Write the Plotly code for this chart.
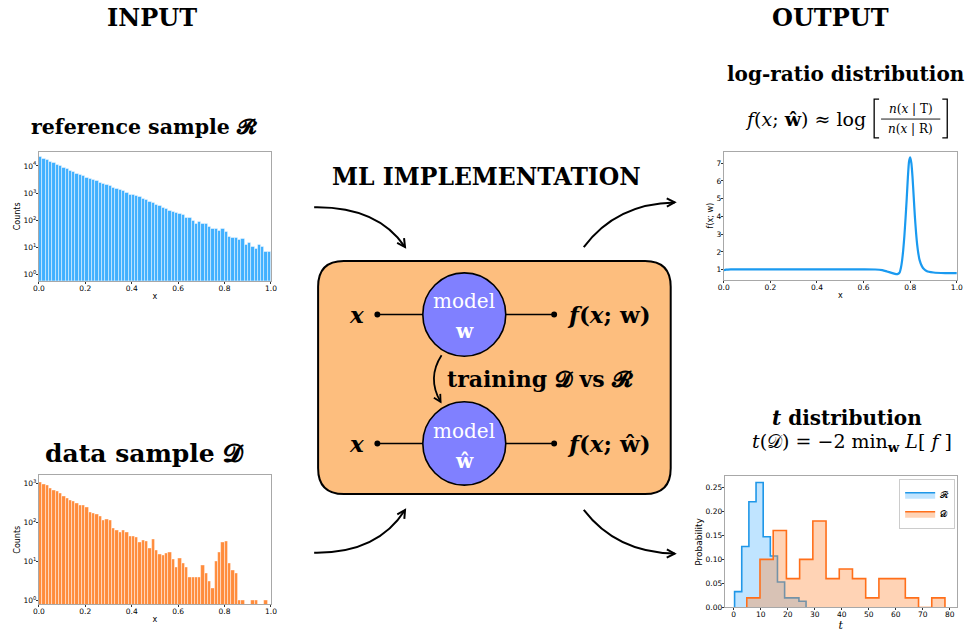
import math
import plotly.graph_objects as go

W, H = 973, 637

# ---------------------------------------------------------------- data
N_BINS = 70  # equal-width bins on [0, 1]

# reference sample R (counts per bin)
REF_COUNTS = [21380, 18620, 16220, 14130, 12590, 11220, 10000, 8910, 7940, 6920,
              6030, 5370, 4790, 4365, 3715, 3467, 3090, 2754, 2455, 2291,
              1950, 1820, 1622, 1413, 1288, 1175, 1023, 891, 851, 776,
              708, 631, 550, 479, 447, 389, 331, 295, 263, 234,
              209, 186, 178, 162, 126, 120, 93, 74, 85, 72,
              78, 59, 51, 47, 41, 47, 38, 25, 23, 23,
              19, 21, 13, 15, 11, 9, 13, 11, 7, 7]

# data sample D (counts per bin)
DATA_COUNTS = [1047, 955, 871, 741, 646, 617, 550, 457, 398, 355,
               347, 302, 263, 263, 234, 182, 166, 158, 138, 112,
               117, 112, 69, 63, 56, 62, 54, 43, 43, 42,
               30, 35, 32, 22, 36, 19, 15, 14, 16, 17,
               11, 7, 12, 9, 7, 4, 4, 4, 4, 8,
               5, 3, 2, 10, 17, 30, 33, 9, 6, 5,
               1, 1, 0, 0, 1, 1, 0, 0, 1, 0]

# learned log-ratio f(x; w)
F_X = [0.0, 0.01, 0.03, 0.1, 0.2, 0.3, 0.4, 0.5, 0.6, 0.65,
       0.68, 0.70, 0.72, 0.735, 0.745, 0.755, 0.76, 0.765, 0.77, 0.775,
       0.78, 0.785, 0.79, 0.795, 0.80, 0.805, 0.81, 0.815, 0.82, 0.825,
       0.83, 0.835, 0.84, 0.85, 0.86, 0.87, 0.88, 0.90, 0.95, 1.0]
F_Y = [0.97, 1.00, 1.02, 1.02, 1.02, 1.02, 1.02, 1.02, 1.02, 1.01,
       0.97, 0.90, 0.82, 0.76, 0.75, 0.85, 1.1, 1.5, 2.1, 2.9,
       3.9, 5.0, 6.2, 7.1, 7.33, 7.0, 6.2, 5.1, 4.0, 3.1,
       2.4, 1.9, 1.55, 1.2, 1.02, 0.93, 0.88, 0.84, 0.81, 0.80]

# t distributions (bin edges and probabilities)
R_EDGES = [0.35, 3.0, 5.64, 8.29, 10.93, 13.58, 16.22, 18.87, 21.51, 24.16, 26.8]
R_PROB = [0.033, 0.127, 0.220, 0.260, 0.147, 0.107, 0.053, 0.020, 0.020, 0.013]
D_EDGES = [4.86, 9.75, 14.64, 19.53, 24.42, 29.31, 34.2, 39.09, 43.98, 48.87,
           53.76, 58.65, 63.54, 68.43, 73.32, 78.21]
D_PROB = [0.02, 0.10, 0.16, 0.06, 0.10, 0.18, 0.06, 0.08, 0.06, 0.02,
          0.06, 0.06, 0.02, 0.0, 0.02]

X_TICKS = [0.0, 0.2, 0.4, 0.6, 0.8, 1.0]
T_TICKS = [0, 10, 20, 30, 40, 50, 60, 70, 80]
P_TICKS = [0.0, 0.05, 0.10, 0.15, 0.20, 0.25]
F_TICKS = [1, 2, 3, 4, 5, 6, 7]

# ---------------------------------------------------------------- style
SERIF = "DejaVu Serif"
SANS = "DejaVu Sans"
BLUE_BAR = "#40b0ff"
ORANGE_BAR = "#ff8c3c"
LINE_BLUE = "#1a9af0"
R_EDGE, R_FILL = "#1f97e8", "rgba(60,170,255,0.32)"
D_EDGE, D_FILL = "#ff6f1a", "rgba(255,140,60,0.38)"
BOX_FILL = "#fdbe7e"
NODE_FILL = "#8080ff"


def X(px):
    return px / W


def Y(py):
    return 1 - py / H


def step_xy(edges, probs):
    xs = [edges[0]] + list(edges) + [edges[-1]]
    ys = [0.0] + list(probs) + [probs[-1], 0.0]
    return xs, ys


centers = [(i + 0.5) / N_BINS for i in range(N_BINS)]
ref_y = [c if c > 0 else None for c in REF_COUNTS]
dat_y = [c if c > 0 else None for c in DATA_COUNTS]

fig = go.Figure()

fig.add_bar(x=centers, y=ref_y, width=1 / N_BINS, xaxis="x", yaxis="y",
            marker=dict(color=BLUE_BAR, line=dict(color="rgba(255,255,255,0.75)", width=0.6)),
            showlegend=False)
fig.add_bar(x=centers, y=dat_y, width=1 / N_BINS, xaxis="x2", yaxis="y2",
            marker=dict(color=ORANGE_BAR, line=dict(color="rgba(255,255,255,0.75)", width=0.6)),
            showlegend=False)
fig.add_scatter(x=F_X, y=F_Y, mode="lines", xaxis="x3", yaxis="y3",
                line=dict(color=LINE_BLUE, width=2.2, shape="spline", smoothing=0.6),
                showlegend=False)

rx, ry = step_xy(R_EDGES, R_PROB)
dx, dy = step_xy(D_EDGES, D_PROB)
fig.add_scatter(x=rx, y=ry, mode="lines", xaxis="x4", yaxis="y4", fill="tozeroy",
                fillcolor=R_FILL, line=dict(color=R_EDGE, width=1.6, shape="hv"),
                name="𝓡")
fig.add_scatter(x=dx, y=dy, mode="lines", xaxis="x4", yaxis="y4", fill="tozeroy",
                fillcolor=D_FILL, line=dict(color=D_EDGE, width=1.6, shape="hv"),
                name="𝓓")

axis_common = dict(showline=True, linecolor="#a8a8a8", linewidth=1, mirror=True,
                   ticks="outside", ticklen=2, tickcolor="#333", tickwidth=0.8,
                   ticklabelstandoff=-2,
                   tickfont=dict(family=SANS, size=7.5, color="black"),
                   showgrid=False, zeroline=False)


def title(text, size=8, family=SANS, standoff=1):
    return dict(text=text, font=dict(family=family, size=size, color="black"), standoff=standoff)


log_text = {1: "10<sup>0</sup>", 10: "10<sup>1</sup>", 100: "10<sup>2</sup>",
            1000: "10<sup>3</sup>", 10000: "10<sup>4</sup>"}

fig.update_layout(
    width=W, height=H, margin=dict(l=0, r=0, t=0, b=0),
    paper_bgcolor="white", plot_bgcolor="white", bargap=0,
    xaxis=dict(domain=[X(33.3), X(268.3)], range=[0, 1], anchor="y",
               tickvals=X_TICKS, tickformat=".1f", title=title("x"), **axis_common),
    yaxis=dict(domain=[Y(283), Y(153)], type="log", range=[-0.22, 4.52], anchor="x",
               tickvals=list(log_text), ticktext=list(log_text.values()),
               title=title("Counts"), **axis_common),
    xaxis2=dict(domain=[X(33.3), X(268.3)], range=[0, 1], anchor="y2",
                tickvals=X_TICKS, tickformat=".1f", title=title("x"), **axis_common),
    yaxis2=dict(domain=[Y(609), Y(479)], type="log", range=[-0.10, 3.2], anchor="x2",
                tickvals=[1, 10, 100, 1000], ticktext=[log_text[v] for v in [1, 10, 100, 1000]],
                title=title("Counts"), **axis_common),
    xaxis3=dict(domain=[X(726.7), X(962.7)], range=[0, 1], anchor="y3",
                tickvals=X_TICKS, tickformat=".1f", title=title("x"), **axis_common),
    yaxis3=dict(domain=[Y(282), Y(152.7)], range=[0.43, 7.66], anchor="x3",
                tickvals=F_TICKS, title=title("f(x; w)"), **axis_common),
    xaxis4=dict(domain=[X(727.7), X(962.7)], range=[-3.3, 82.6], anchor="y4",
                tickvals=T_TICKS, title=title("<i>t</i>", size=11, family=SERIF, standoff=0),
                **axis_common),
    yaxis4=dict(domain=[Y(612.3), Y(480)], range=[0, 0.273], anchor="x4",
                tickvals=P_TICKS, tickformat=".2f", title=title("Probability", size=9),
                **axis_common),
    legend=dict(x=X(961), y=Y(483), xanchor="right", yanchor="top",
                bgcolor="white", bordercolor="#cccccc", borderwidth=1,
                font=dict(family=SERIF, size=9, color="black"), itemwidth=30,
                tracegroupgap=0),
)


def text(x, y, s, size, color="black", family=SERIF, xanchor="center"):
    fig.add_annotation(x=X(x), y=Y(y), xref="paper", yref="paper", text=s,
                       showarrow=False, xanchor=xanchor, yanchor="middle",
                       font=dict(family=family, size=size, color=color))


# ---------------------------------------------------------------- headings
text(148, 18, "<b>INPUT</b>", 24)
text(835, 18, "<b>OUTPUT</b>", 24)
text(140, 128, "<b>reference sample 𝓡</b>", 20.5)
text(140, 457, "<b>data sample 𝓓</b>", 25)
text(487, 178, "<b>ML IMPLEMENTATION</b>", 23.5)
text(850, 75, "<b>log-ratio distribution</b>", 20)
text(852, 421, "<b><i>t</i> distribution</b>", 20)
text(857, 446, "<i>t</i>(𝒟) = −2 min<sub><b>w</b></sub> <i>L</i>[ <i>f</i> ]", 19)

# log-ratio formula: f(x; w^) ~ log [ n(x|T) / n(x|R) ]
text(873, 120, "<i>f</i>(<i>x</i>; <b>ŵ</b>) ≈ log", 19, xanchor="right")
text(916, 110, "<i>n</i>(<i>x</i> | T)", 12)
text(916, 130, "<i>n</i>(<i>x</i> | R)", 12)

shapes = []
shapes.append(dict(type="line", xref="paper", yref="paper",
                   x0=X(886), x1=X(946), y0=Y(120), y1=Y(120),
                   line=dict(color="black", width=0.9)))
# square brackets around the fraction
for xb, sgn in ((879, 1), (953, -1)):
    shapes.append(dict(type="path", xref="paper", yref="paper",
                       path=(f"M{X(xb + 5 * sgn)},{Y(100)} L{X(xb)},{Y(100)} "
                             f"L{X(xb)},{Y(139)} L{X(xb + 5 * sgn)},{Y(139)}"),
                       line=dict(color="black", width=1.3)))


# ---------------------------------------------------------------- central block
def rounded_rect(x0, y0, x1, y1, r):
    p = [f"M{X(x0 + r)},{Y(y0)}", f"L{X(x1 - r)},{Y(y0)}",
         f"Q{X(x1)},{Y(y0)} {X(x1)},{Y(y0 + r)}", f"L{X(x1)},{Y(y1 - r)}",
         f"Q{X(x1)},{Y(y1)} {X(x1 - r)},{Y(y1)}", f"L{X(x0 + r)},{Y(y1)}",
         f"Q{X(x0)},{Y(y1)} {X(x0)},{Y(y1 - r)}", f"L{X(x0)},{Y(y0 + r)}",
         f"Q{X(x0)},{Y(y0)} {X(x0 + r)},{Y(y0)}", "Z"]
    return " ".join(p)


shapes.append(dict(type="path", xref="paper", yref="paper",
                   path=rounded_rect(316, 263, 673, 498, 26),
                   fillcolor=BOX_FILL, line=dict(color="black", width=2)))

NODE_CX, NODE_R = 464, 42
for cy in (317, 447):
    shapes.append(dict(type="line", xref="paper", yref="paper",
                       x0=X(376), x1=X(NODE_CX - NODE_R), y0=Y(cy), y1=Y(cy),
                       line=dict(color="black", width=1.5)))
    shapes.append(dict(type="line", xref="paper", yref="paper",
                       x0=X(NODE_CX + NODE_R), x1=X(555), y0=Y(cy), y1=Y(cy),
                       line=dict(color="black", width=1.5)))
    for px in (376, 555):
        shapes.append(dict(type="circle", xref="paper", yref="paper",
                           x0=X(px - 3), x1=X(px + 3), y0=Y(cy - 3), y1=Y(cy + 3),
                           fillcolor="black", line=dict(color="black", width=0)))
    shapes.append(dict(type="circle", xref="paper", yref="paper",
                       x0=X(NODE_CX - NODE_R), x1=X(NODE_CX + NODE_R),
                       y0=Y(cy - NODE_R), y1=Y(cy + NODE_R),
                       fillcolor=NODE_FILL, line=dict(color="black", width=1.6)))


def curved_arrow(p0, c, p1, width=2.0, head=9):
    (x0, y0), (cx, cy), (x1, y1) = p0, c, p1
    shapes.append(dict(type="path", xref="paper", yref="paper",
                       path=f"M{X(x0)},{Y(y0)} Q{X(cx)},{Y(cy)} {X(x1)},{Y(y1)}",
                       line=dict(color="black", width=width)))
    dxv, dyv = x1 - cx, y1 - cy
    n = (dxv ** 2 + dyv ** 2) ** 0.5
    ux, uy = dxv / n, dyv / n
    pts = []
    for a in (math.radians(28), -math.radians(28)):
        rx_ = ux * math.cos(a) - uy * math.sin(a)
        ry_ = ux * math.sin(a) + uy * math.cos(a)
        pts.append((x1 - head * rx_, y1 - head * ry_))
    shapes.append(dict(type="path", xref="paper", yref="paper",
                       path=(f"M{X(pts[0][0])},{Y(pts[0][1])} L{X(x1)},{Y(y1)} "
                             f"L{X(pts[1][0])},{Y(pts[1][1])}"),
                       line=dict(color="black", width=width)))


curved_arrow((312, 209), (376, 208), (404, 249))
curved_arrow((585, 249), (618, 205), (677, 204))
curved_arrow((312, 557), (376, 558), (404, 514))
curved_arrow((585, 514), (618, 557), (677, 558))
curved_arrow((441, 358), (426, 381), (440, 405), width=1.8, head=8)

text(355, 317, "<b><i>x</i></b>", 23)
text(355, 447, "<b><i>x</i></b>", 23)
text(566, 317, "<b><i>f</i>(<i>x</i>; w)</b>", 23, xanchor="left")
text(566, 447, "<b><i>f</i>(<i>x</i>; ŵ)</b>", 23, xanchor="left")
text(NODE_CX, 303, "model", 20, color="white")
text(NODE_CX, 334, "<b>w</b>", 20, color="white")
text(NODE_CX, 434, "model", 20, color="white")
text(NODE_CX, 465, "<b>ŵ</b>", 20, color="white")
text(444, 382, "<b>training 𝓓 vs 𝓡</b>", 22, xanchor="left")

fig.update_layout(shapes=shapes)

fig.write_html("out.html")
